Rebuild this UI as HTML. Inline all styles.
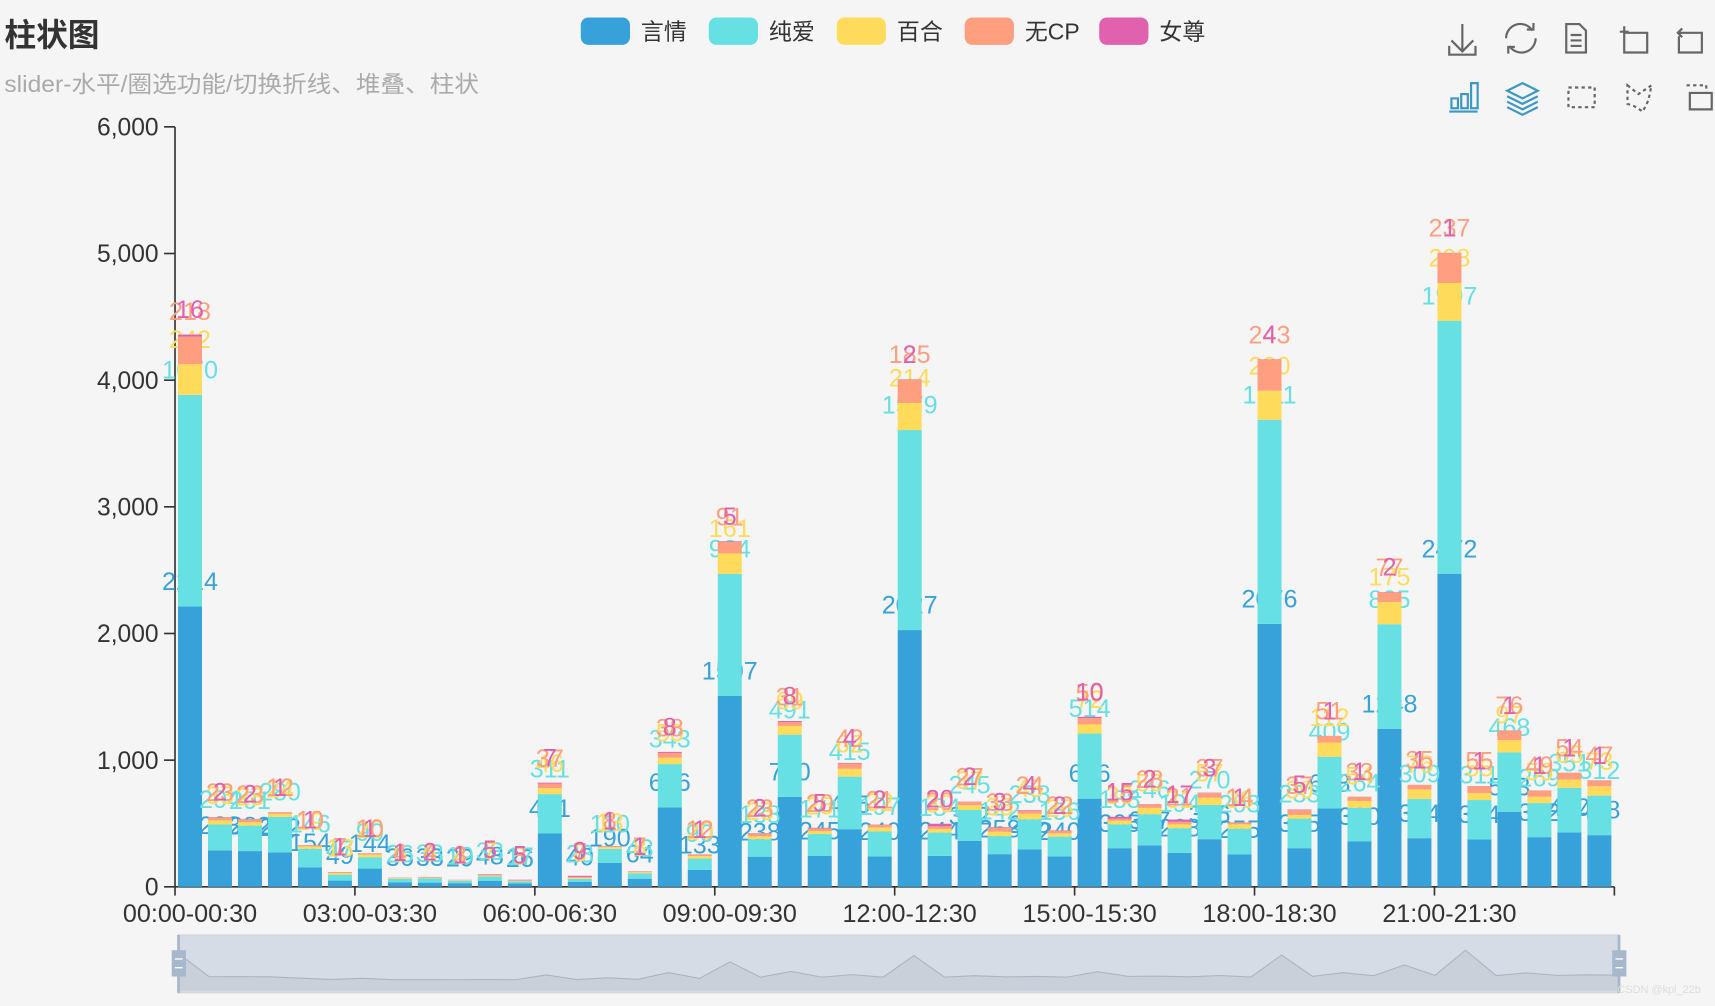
<!DOCTYPE html>
<html><head><meta charset="utf-8"><style>
html,body{margin:0;padding:0;background:#f5f5f5;}
svg{display:block;font-family:"Liberation Sans","Noto Sans CJK SC",sans-serif;}
</style></head><body>
<svg id="chart" width="1715" height="1006" viewBox="0 0 1568 920" preserveAspectRatio="none" xmlns="http://www.w3.org/2000/svg">
<rect x="0" y="0" width="1568" height="920" fill="#f5f5f5"/>
<text x="4" y="42" font-size="29" font-weight="bold" fill="#333">柱状图</text>
<text x="4" y="84" font-size="21" fill="#aaa" textLength="434" lengthAdjust="spacingAndGlyphs">slider-水平/圈选功能/切换折线、堆叠、柱状</text>
<g id="legend"></g>
<g id="toolbox" fill="none" stroke="#666" stroke-width="2">
 <g><path d="M1337 22v25M1327 37l10 10 10-10M1325 42v8h24v-8"/></g>
 <g><path d="M1377 35a13 13 0 0 1 24-7M1404 35a13 13 0 0 1-24 7"/><path d="M1396 27h6v-6M1385 43h-6v6"/></g>
 <g><path d="M1432 22h12l6 6v20h-18z M1436 32h10M1436 37h10M1436 42h10"/></g>
 <g><path d="M1485 30h21v18h-21v-24M1481 29h8"/></g>
 <g><path d="M1538 30h18v18h-21v-15M1534 30h8M1538 26l-4 4 4 4"/></g>
 <g stroke="#3e98c5"><path d="M1327 90v9h6v-9zM1336 86v13h6v-13zM1345 76v23h6v-23zM1325 102h26"/></g>
 <g stroke="#3e98c5"><path d="M1392 76l14 7-14 7-14-7zM1378 88l14 7 14-7M1378 93l14 7 14-7M1378 98l14 7 14-7"/></g>
 <g stroke-dasharray="3 3"><path d="M1434 80h24v18h-24z"/></g>
 <g stroke-dasharray="3 3"><path d="M1488 78l10 8 12-8-3 14-5 10-8-5-6-2z"/></g>
 <g><path d="M1542 78h18v8" stroke-dasharray="3 3"/><path d="M1545 85h20v15h-20z"/></g>
</g>
<g id="axes"></g>
<g id="plot"></g>
<g id="slider"></g>
<text x="1555" y="908" font-size="10" fill="#ddd" text-anchor="end">CSDN @kpl_22b</text>
</svg>
<script>
const categories = ["00:00-00:30","00:30-01:00","01:00-01:30","01:30-02:00","02:00-02:30","02:30-03:00","03:00-03:30","03:30-04:00","04:00-04:30","04:30-05:00","05:00-05:30","05:30-06:00","06:00-06:30","06:30-07:00","07:00-07:30","07:30-08:00","08:00-08:30","08:30-09:00","09:00-09:30","09:30-10:00","10:00-10:30","10:30-11:00","11:00-11:30","11:30-12:00","12:00-12:30","12:30-13:00","13:00-13:30","13:30-14:00","14:00-14:30","14:30-15:00","15:00-15:30","15:30-16:00","16:00-16:30","16:30-17:00","17:00-17:30","17:30-18:00","18:00-18:30","18:30-19:00","19:00-19:30","19:30-20:00","20:00-20:30","20:30-21:00","21:00-21:30","21:30-22:00","22:00-22:30","22:30-23:00","23:00-23:30","23:30-24:00"];
const seriesNames = ["言情","纯爱","百合","无CP","女尊"];
const yanqing = [2214,288,282,272,154,49,144,36,33,29,48,26,421,40,190,64,626,133,1507,238,710,245,455,240,2027,244,362,258,295,240,696,305,327,268,376,255,2076,305,618,360,1248,384,2472,374,593,392,430,408];
const chunai = [1670,204,201,280,146,47,90,26,33,19,33,17,311,23,110,43,343,90,964,138,491,171,415,197,1579,184,245,142,238,156,514,188,246,194,270,203,1611,233,409,264,825,309,1997,311,468,269,351,312];
const baihe = [242,33,28,24,19,13,20,6,6,4,7,5,46,8,13,8,50,20,161,23,69,25,62,32,214,30,37,35,45,26,72,30,50,31,57,36,230,30,112,54,175,76,298,55,97,50,65,73];
const wucp = [218,23,23,12,10,7,10,4,4,3,5,3,37,7,8,7,38,12,91,23,31,20,42,21,185,20,27,33,24,22,50,15,28,21,37,14,243,37,51,33,77,35,237,55,76,49,54,47];
const nvzun = [16,2,2,1,1,1,1,1,2,1,5,5,7,9,1,1,8,1,5,2,8,5,4,2,2,20,2,3,4,2,10,15,2,17,3,1,4,5,1,1,2,1,1,1,1,1,1,1];
const yTicks = [0,1000,2000,3000,4000,5000,6000];
const yTickLabels = ["0","1,000","2,000","3,000","4,000","5,000","6,000"];

const NS = "http://www.w3.org/2000/svg";
const colors = ["#37a2da","#67e0e3","#ffdb5c","#ff9f7f","#e062ae"];
const allSeries = [yanqing, chunai, baihe, wucp, nvzun];
const X0 = 160, X1 = 1476, Y0 = 811, YTOP = 116, YMAX = 6000;
const band = (X1 - X0) / categories.length;
const xScale = i => X0 + band * (i + 0.5);
const yScale = v => Y0 - (v / YMAX) * (Y0 - YTOP);
function mk(tag, attrs, parent) {
  const el = document.createElementNS(NS, tag);
  for (const k in attrs) el.setAttribute(k, attrs[k]);
  parent.appendChild(el);
  return el;
}

const legend = document.getElementById('legend');
const legX = [531, 648, 765, 882, 1005];
seriesNames.forEach((n, i) => {
  const g = mk('g', {}, legend);
  
  
  mk('rect', {x: legX[i], y: 16, width: 45, height: 25, rx: 7, fill: colors[i]}, g);
  const t = mk('text', {x: legX[i] + 55, y: 36, 'font-size': 21, fill: '#333'}, g);
  t.textContent = n;
});

const axes = document.getElementById('axes');
yTicks.forEach((v, i) => {
  const y = yScale(v);
  const tk = mk('line', {x1: 150, x2: 160, y1: y, y2: y, stroke: '#333', 'stroke-width': 1.5}, axes);
  
  
  const t = mk('text', {x: 145, y: y + 8, 'font-size': 22.5, fill: '#333', 'text-anchor': 'end'}, axes);
  
  
  t.textContent = yTickLabels[i];
});
const yl = mk('line', {x1: X0, x2: X0, y1: YTOP, y2: Y0, stroke: '#333', 'stroke-width': 1.5}, axes);


const xl = mk('line', {x1: X0, x2: X1, y1: Y0, y2: Y0, stroke: '#333', 'stroke-width': 1.5}, axes);


for (let i = 0; i <= categories.length; i += 6) {
  const x = X0 + band * i;
  const tk = mk('line', {x1: x, x2: x, y1: Y0, y2: Y0 + 8, stroke: '#333', 'stroke-width': 1.5}, axes);
  
  
  if (i < categories.length) {
    const t = mk('text', {x: xScale(i), y: Y0 + 32, 'font-size': 23, fill: '#333', 'text-anchor': 'middle'}, axes);
    
    
    t.textContent = categories[i];
  }
}

const plot = document.getElementById('plot');
const cum = categories.map(() => 0);
const bw = band * 0.8;
allSeries.forEach((data, s) => {
  const g = mk('g', {}, plot);
  
  
  const tops = [];
  data.forEach((v, i) => {
    const yb = yScale(cum[i]);
    cum[i] += v;
    const yt = yScale(cum[i]);
    tops.push(yt);
    const r = mk('rect', {x: xScale(i) - bw / 2, y: yt, width: bw, height: Math.max(0, yb - yt), fill: colors[s]}, g);
    
    
  });
  data.forEach((v, i) => {
    const t = mk('text', {x: xScale(i), y: tops[i] - 15, 'font-size': 23, fill: colors[s], 'text-anchor': 'middle'}, g);
    
    
    t.textContent = v;
  });
});

const slider = document.getElementById('slider');
const SX0 = 163, SX1 = 1480, ST = 855, SB = 908;
mk('rect', {x: SX0, y: ST, width: SX1 - SX0, height: SB - ST, fill: '#d5dce5', stroke: '#d0d6de'}, slider);
const mn = Math.min(...yanqing), mx = Math.max(...yanqing);
const sx = i => SX0 + (SX1 - SX0) * i / (categories.length - 1);
const sy = v => 896 - (v - mn) / (mx - mn) * 27;
let d = '';
yanqing.forEach((v, i) => { d += (i ? 'L' : 'M') + sx(i).toFixed(1) + ' ' + sy(v).toFixed(1); });
const area = mk('path', {d: d + `L${SX1} ${SB - 2}L${SX0} ${SB - 2}Z`, fill: '#c9d0da', stroke: 'none'}, slider);


const sl = mk('path', {d: d, fill: 'none', stroke: '#aab4c2', 'stroke-width': 1}, slider);


[SX0, SX1].forEach((hx, k) => {
  const g = mk('g', {}, slider);
  
  
  mk('rect', {x: hx - 1, y: ST, width: 2.5, height: SB - ST, fill: '#a7b7cc'}, g);
  mk('rect', {x: hx - 6, y: 869, width: 13, height: 24, fill: '#a7b7cc'}, g);
  mk('line', {x1: hx - 3, x2: hx + 4, y1: 877, y2: 877, stroke: '#fff', 'stroke-width': 1.2}, g);
  mk('line', {x1: hx - 3, x2: hx + 4, y1: 885, y2: 885, stroke: '#fff', 'stroke-width': 1.2}, g);
});
</script>
</body></html>
